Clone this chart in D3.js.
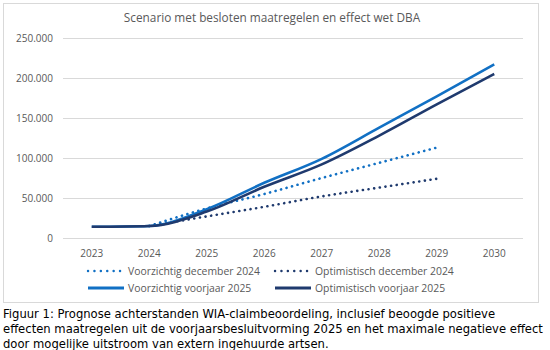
<!DOCTYPE html>
<html>
<head>
<meta charset="utf-8">
<script src="https://cdn.jsdelivr.net/npm/d3@7"></script>
<style>
  body { margin: 0; background: #fff; }
  svg { display: block; }
</style>
</head>
<body>
<svg id="chart"></svg>
<script>
// data
const years = ['2023', '2024', '2025', '2026', '2027', '2028', '2029', '2030'];
const voorzichtigDec = [null, 15000, 37000, 55000, 75000, 94000, 113000, null];
const optimistischDec = [null, 15000, 27000, 39000, 52000, 63000, 74000, null];
const voorzichtigVoorjaar = [14000, 15000, 36000, 69000, 99000, 138000, 177000, 217000];
const optimistischVoorjaar = [14000, 15000, 33000, 64000, 92000, 128000, 167000, 205000];
const yTicks = [0, 50000, 100000, 150000, 200000, 250000];

const title = 'Scenario met besloten maatregelen en effect wet DBA';
const caption = [
    'Figuur 1: Prognose achterstanden WIA-claimbeoordeling, inclusief beoogde positieve',
    'effecten maatregelen uit de voorjaarsbesluitvorming 2025 en het maximale negatieve effect',
    'door mogelijke uitstroom van extern ingehuurde artsen.'
];

const series = [
    {name: 'Voorzichtig december 2024', values: voorzichtigDec, color: '#1170c4', dotted: true},
    {name: 'Optimistisch december 2024', values: optimistischDec, color: '#1f3a6e', dotted: true},
    {name: 'Voorzichtig voorjaar 2025', values: voorzichtigVoorjaar, color: '#1170c4', dotted: false},
    {name: 'Optimistisch voorjaar 2025', values: optimistischVoorjaar, color: '#1f3a6e', dotted: false}
];

const width = 550, height = 350;
const margin = {top: 38, right: 27, bottom: 112, left: 63};
const chartFont = "'Open Sans', sans-serif";

const svg = d3.select('#chart')
    .attr('width', width)
    .attr('height', height);

// chart frame
svg.append('rect')
    .attr('x', 3.5).attr('y', 3.5)
    .attr('width', 535).attr('height', 299)
    .attr('fill', '#fff')
    .attr('stroke', '#d9d9d9');

svg.append('text')
    .attr('x', 272)
    .attr('y', 22)
    .attr('text-anchor', 'middle')
    .style('font-family', chartFont)
    .style('font-size', '11.8px')
    .style('fill', '#595959')
    .text(title);

const innerW = width - margin.left - margin.right;
const innerH = 200;

const g = svg.append('g')
    .attr('transform', `translate(${margin.left}, ${margin.top})`);

const x = d3.scaleBand()
    .domain(years)
    .range([0, innerW])
    .padding(0);

const y = d3.scaleLinear()
    .domain([0, 250000])
    .range([innerH, 0]);

const fmt = d => d3.format(',')(d).replace(/,/g, '.');

// gridlines + y labels
const yAxis = d3.axisLeft(y)
    .tickValues(yTicks)
    .tickSize(-innerW)
    .tickPadding(10)
    .tickFormat(fmt);

const yg = g.append('g').call(yAxis);
yg.select('.domain').remove();
yg.selectAll('line').attr('stroke', '#d9d9d9');
yg.selectAll('text')
    .style('font-family', chartFont)
    .style('font-size', '10px')
    .style('fill', '#595959');

const xAxis = d3.axisBottom(x)
    .tickSize(0)
    .tickPadding(12);

const xg = g.append('g')
    .attr('transform', `translate(0, ${innerH})`)
    .call(xAxis);
xg.select('.domain').remove();
xg.selectAll('text')
    .style('font-family', chartFont)
    .style('font-size', '10px')
    .style('fill', '#595959');

const line = d3.line()
    .defined(d => d.v != null)
    .x(d => x(d.year) + x.bandwidth() / 2)
    .y(d => y(d.v))
    .curve(d3.curveMonotoneX);

series.forEach(s => {
    const pts = years.map((yr, i) => ({year: yr, v: s.values[i]}));
    g.append('path')
        .datum(pts)
        .attr('d', line)
        .attr('fill', 'none')
        .attr('stroke', s.color)
        .attr('stroke-width', 2.6)
        .attr('stroke-linecap', s.dotted ? 'round' : 'butt')
        .attr('stroke-dasharray', s.dotted ? '0.1 5.6' : null);
});

// legend
const legendPos = [[88, 271], [275, 271], [88, 288], [275, 288]];
series.forEach((s, i) => {
    const [lx, ly] = legendPos[i];
    svg.append('line')
        .attr('x1', lx).attr('x2', lx + 36)
        .attr('y1', ly).attr('y2', ly)
        .attr('stroke', s.color)
        .attr('stroke-width', s.dotted ? 2.4 : 3)
        .attr('stroke-linecap', s.dotted ? 'round' : 'butt')
        .attr('stroke-dasharray', s.dotted ? '0.1 6.3' : null);
    svg.append('text')
        .attr('x', lx + 40)
        .attr('y', ly + 3.5)
        .style('font-family', chartFont)
        .style('font-size', '10.4px')
        .style('fill', '#595959')
        .text(s.name);
});

// caption
caption.forEach((t, i) => {
    svg.append('text')
        .attr('x', 3)
        .attr('y', 317.5 + i * 15)
        .style('font-family', "'DejaVu Sans', Verdana, sans-serif")
        .style('font-size', '11.6px')
        .style('fill', '#000')
        .text(t);
});
</script>
</body>
</html>
